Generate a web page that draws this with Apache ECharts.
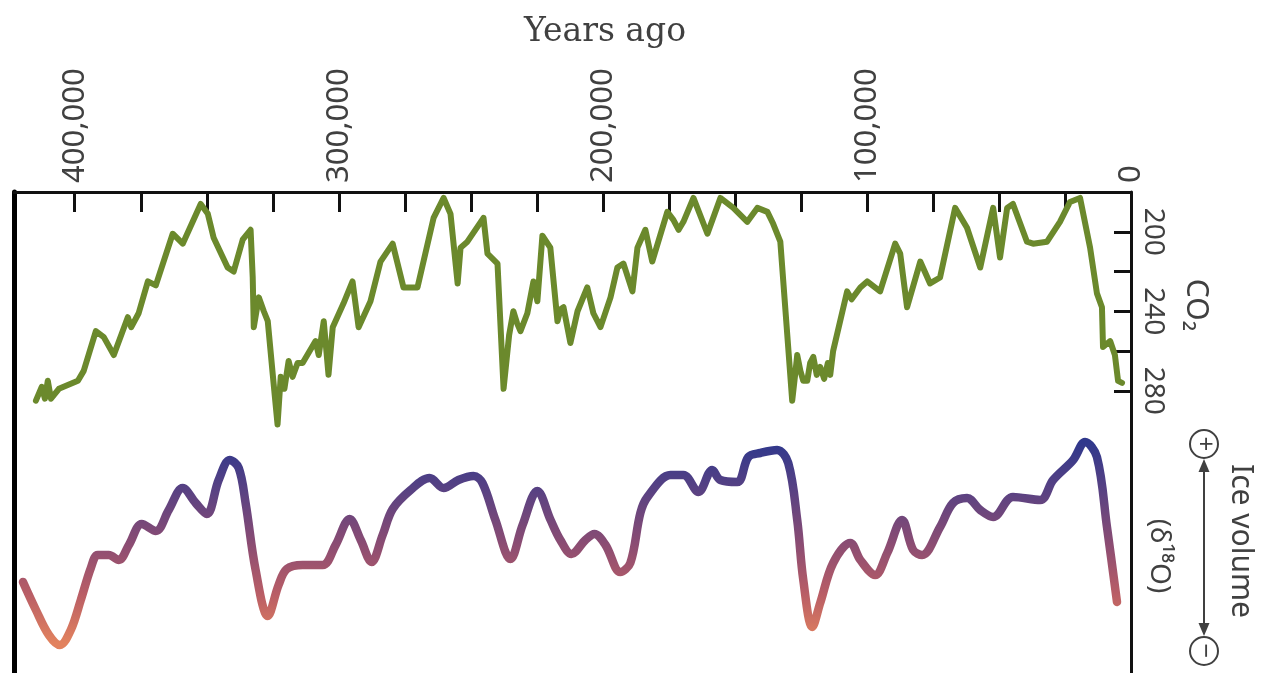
<!DOCTYPE html>
<html>
<head>
<meta charset="utf-8">
<title>CO2 and ice volume over 420,000 years</title>
<script src="https://cdn.jsdelivr.net/npm/echarts@6/dist/echarts.min.js"></script>
<style>
  html, body { margin: 0; padding: 0; background: #ffffff; }
  #chart { width: 1266px; height: 673px; }
</style>
</head>
<body>
<div id="chart"></div>
<script>
// Atmospheric CO2 (ppm) by age, years before present
const co2Years = [
  414700, 412500, 411300, 410200, 409000, 406000, 398800, 396600, 392000, 389000, 385200,
  379900, 378600, 375800, 372300, 369300, 362900, 359100, 352300, 349600, 347400, 342100,
  339800, 336400, 333400, 332600, 332200, 330300, 328400, 326900, 325000, 323200, 322000,
  320600, 319000, 317500, 315600, 313700, 308800, 307600, 305700, 303900, 302300, 298200, 294800, 292500,
  288000, 284200, 279600, 275500, 270200, 264100, 260300, 257700, 255000, 253900,
  251300, 245200, 243700, 239900, 237600, 235500, 233900, 232500, 231200, 228600, 226300, 224800,
  222900, 219900, 217200, 216000, 214900, 213600, 212300, 209600, 205900, 203600, 200900, 197100,
  194500, 192200, 188800, 186900, 183900, 181300, 175600, 173300, 171300, 169500, 165700,
  160400, 155500, 150600, 145300, 141500, 137700, 135500, 132800, 128300, 127200, 126400,
  125200, 124100, 122600, 121500, 120300, 119000, 117700, 116200, 114800, 113900, 112800,
  107500, 105800, 102500, 99900, 95000, 89300, 87400, 84800, 79800, 76100, 72300,
  66600, 62100, 57100, 52200, 49600, 46900, 44700, 39400, 37100, 31800,
  26900, 23100, 19300, 15500, 12900, 11000, 10600, 7900, 6100, 4900, 3400
];
const co2Ppm = [
  285, 278, 284, 275, 284, 279, 275, 270, 250, 253, 262,
  243, 248, 241, 225, 227, 201, 206, 186, 191, 203, 218,
  220, 204, 199, 223, 248, 233, 240, 245, 272, 297, 273,
  279, 265, 273, 266, 266, 255, 262, 245, 272, 248, 236, 225, 248,
  235, 215, 206, 228, 228, 193, 183, 191, 226, 208,
  205, 193, 211, 216, 279, 252, 240, 246, 250, 241, 225, 235,
  202, 208, 245, 239, 238, 247, 256, 240, 228, 241, 248, 233,
  218, 216, 230, 208, 199, 215, 190, 194, 199, 195, 183,
  201, 183, 188, 195, 188, 190, 196, 205, 285, 272, 262,
  270, 275, 275, 266, 263, 272, 268, 274, 266, 272, 260,
  230, 234, 228, 225, 230, 206, 211, 238, 215, 226, 223,
  188, 198, 218, 188, 213, 188, 186, 205, 206, 205,
  195, 185, 183, 208, 231, 238, 258, 255, 262, 275, 276
];

// Ice volume proxy (benthic delta-18O, per mil) by age
const iceYears = [
  419600, 414700, 409800, 405600, 401500, 397700, 393900, 391300, 387100, 383300,
  379500, 374600, 369300, 364400, 359100, 354200, 350000, 345500, 341300, 337900,
  335300, 331500, 326900, 322800, 319700, 313700, 306100, 301200, 295900, 291700,
  287600, 283400, 279600, 272800, 265600, 260300, 254700, 249000, 245600, 240700,
  235000, 230400, 224800, 219800, 216100, 211900, 206600, 203200, 199000, 193400,
  189600, 185800, 183100, 174400, 169500, 163800, 158600, 155500, 149100, 144900,
  140400, 134000, 129800, 126400, 124100, 120700, 117700, 112800, 106300, 102500,
  96900, 92300, 86700, 82500, 79100, 72300, 67400, 62100, 57100, 52200,
  44700, 34400, 29500, 21900, 17400, 12900, 9100, 5300
];
const iceD18O = [
  3.41, 3.13, 2.88, 2.78, 2.93, 3.23, 3.55, 3.68, 3.68, 3.63,
  3.78, 3.99, 3.92, 4.13, 4.35, 4.20, 4.09, 4.43, 4.63, 4.55,
  4.20, 3.53, 3.07, 3.38, 3.54, 3.58, 3.58, 3.78, 4.04, 3.83,
  3.61, 3.88, 4.14, 4.33, 4.45, 4.35, 4.43, 4.47, 4.40, 4.03,
  3.64, 3.98, 4.32, 4.03, 3.83, 3.69, 3.83, 3.89, 3.78, 3.51,
  3.60, 4.10, 4.26, 4.48, 4.48, 4.31, 4.53, 4.43, 4.41, 4.66,
  4.70, 4.73, 4.60, 4.03, 3.43, 2.96, 3.20, 3.60, 3.80, 3.63,
  3.48, 3.70, 4.03, 3.73, 3.68, 3.96, 4.20, 4.25, 4.13, 4.06,
  4.26, 4.23, 4.43, 4.63, 4.81, 4.66, 3.96, 3.21
];

// Axis tick marks and labels
const yearLabelValues = [0, 100000, 200000, 300000, 400000];
const yearTickValues = [0, 25000, 50000, 75000, 100000, 125000, 150000, 175000, 200000,
  225000, 250000, 275000, 300000, 325000, 350000, 375000, 400000];
const co2LabelValues = [200, 240, 280];
const co2TickValues = [200, 220, 240, 260, 280];

const zip = (xs, ys) => xs.map((x, i) => [x, ys[i]]);

const ink = '#111111';
const textColor = '#404040';
const labelFont = '"Noto Sans", "DejaVu Sans", sans-serif';
const titleFont = '"DejaVu Serif", "Liberation Serif", serif';

const chart = echarts.init(document.getElementById('chart'), null, { renderer: 'canvas' });

chart.setOption({
  backgroundColor: '#ffffff',
  animation: false,
  grid: { left: 14, right: 135, top: 192, bottom: 0, containLabel: false },
  xAxis: {
    type: 'value',
    position: 'top',
    inverse: true,
    min: 0,
    max: 423000,
    axisLine: { show: true, lineStyle: { color: ink, width: 3 } },
    axisTick: {
      show: true, inside: true, length: 20,
      customValues: yearTickValues,
      lineStyle: { color: ink, width: 3 }
    },
    axisLabel: {
      customValues: yearLabelValues,
      rotate: -90,
      margin: 9,
      fontSize: 31,
      fontFamily: labelFont,
      color: textColor,
      formatter: v => Number(v).toLocaleString('en-US')
    },
    splitLine: { show: false }
  },
  yAxis: [
    {
      // CO2 scale on the right edge
      type: 'value',
      position: 'right',
      inverse: true,
      min: 180,
      max: 422,
      axisLine: { show: true, lineStyle: { color: ink, width: 3 } },
      axisTick: {
        show: true, inside: true, length: 17,
        customValues: co2TickValues,
        lineStyle: { color: ink, width: 3 }
      },
      axisLabel: {
        customValues: co2LabelValues,
        rotate: -90,
        margin: 8,
        fontSize: 28,
        fontFamily: labelFont,
        color: textColor
      },
      splitLine: { show: false }
    },
    {
      // ice-volume scale; only its frame line is drawn
      type: 'value',
      position: 'left',
      min: 2.5,
      max: 7.31,
      axisLine: { show: true, lineStyle: { color: '#000000', width: 5 } },
      axisTick: { show: false },
      axisLabel: { show: false },
      splitLine: { show: false }
    }
  ],
  visualMap: {
    show: false,
    type: 'continuous',
    seriesIndex: 1,
    dimension: 1,
    min: 2.8,
    max: 4.8,
    inRange: { color: ['#e2825e', '#b85d66', '#8a4c73', '#5b4282', '#30388c'] }
  },
  series: [
    {
      name: 'CO2',
      type: 'line',
      xAxisIndex: 0,
      yAxisIndex: 0,
      data: zip(co2Years, co2Ppm),
      symbol: 'none',
      smooth: false,
      lineStyle: { color: '#6b892c', width: 6, join: 'round', cap: 'round' }
    },
    {
      name: 'Ice volume',
      type: 'line',
      xAxisIndex: 0,
      yAxisIndex: 1,
      data: zip(iceYears, iceD18O),
      symbol: 'none',
      smooth: 0.35,
      lineStyle: { width: 8.5, join: 'round', cap: 'round' }
    }
  ],
  graphic: [
    {
      type: 'text', x: 605, y: 32,
      style: { text: 'Years ago', font: '33px ' + titleFont, fill: textColor,
               textAlign: 'center', textVerticalAlign: 'middle' }
    },
    {
      type: 'text', x: 1196, y: 305, rotation: -Math.PI / 2,
      style: { text: 'CO₂', font: '30px ' + labelFont, fill: textColor,
               textAlign: 'center', textVerticalAlign: 'middle' }
    },
    {
      type: 'text', x: 1159, y: 556, rotation: -Math.PI / 2,
      style: { text: '(δ¹⁸O)', font: '28px ' + labelFont, fill: textColor,
               textAlign: 'center', textVerticalAlign: 'middle' }
    },
    {
      type: 'text', x: 1241, y: 541, rotation: -Math.PI / 2,
      style: { text: 'Ice volume', font: '30px ' + labelFont, fill: textColor,
               textAlign: 'center', textVerticalAlign: 'middle' }
    },
    {
      type: 'circle', shape: { cx: 1204, cy: 444, r: 14 },
      style: { fill: 'none', stroke: textColor, lineWidth: 2 }
    },
    {
      type: 'text', x: 1204, y: 444, rotation: -Math.PI / 2,
      style: { text: '+', font: '26px ' + labelFont, fill: textColor,
               textAlign: 'center', textVerticalAlign: 'middle' }
    },
    {
      type: 'circle', shape: { cx: 1204, cy: 651, r: 14 },
      style: { fill: 'none', stroke: textColor, lineWidth: 2 }
    },
    {
      type: 'text', x: 1204, y: 651, rotation: -Math.PI / 2,
      style: { text: '−', font: '26px ' + labelFont, fill: textColor,
               textAlign: 'center', textVerticalAlign: 'middle' }
    },
    {
      type: 'line', shape: { x1: 1204, y1: 466, x2: 1204, y2: 629 },
      style: { stroke: textColor, lineWidth: 2 }
    },
    {
      type: 'polygon', shape: { points: [[1204, 459], [1198.5, 472], [1209.5, 472]] },
      style: { fill: textColor }
    },
    {
      type: 'polygon', shape: { points: [[1204, 636], [1198.5, 623], [1209.5, 623]] },
      style: { fill: textColor }
    }
  ]
});
</script>
</body>
</html>
